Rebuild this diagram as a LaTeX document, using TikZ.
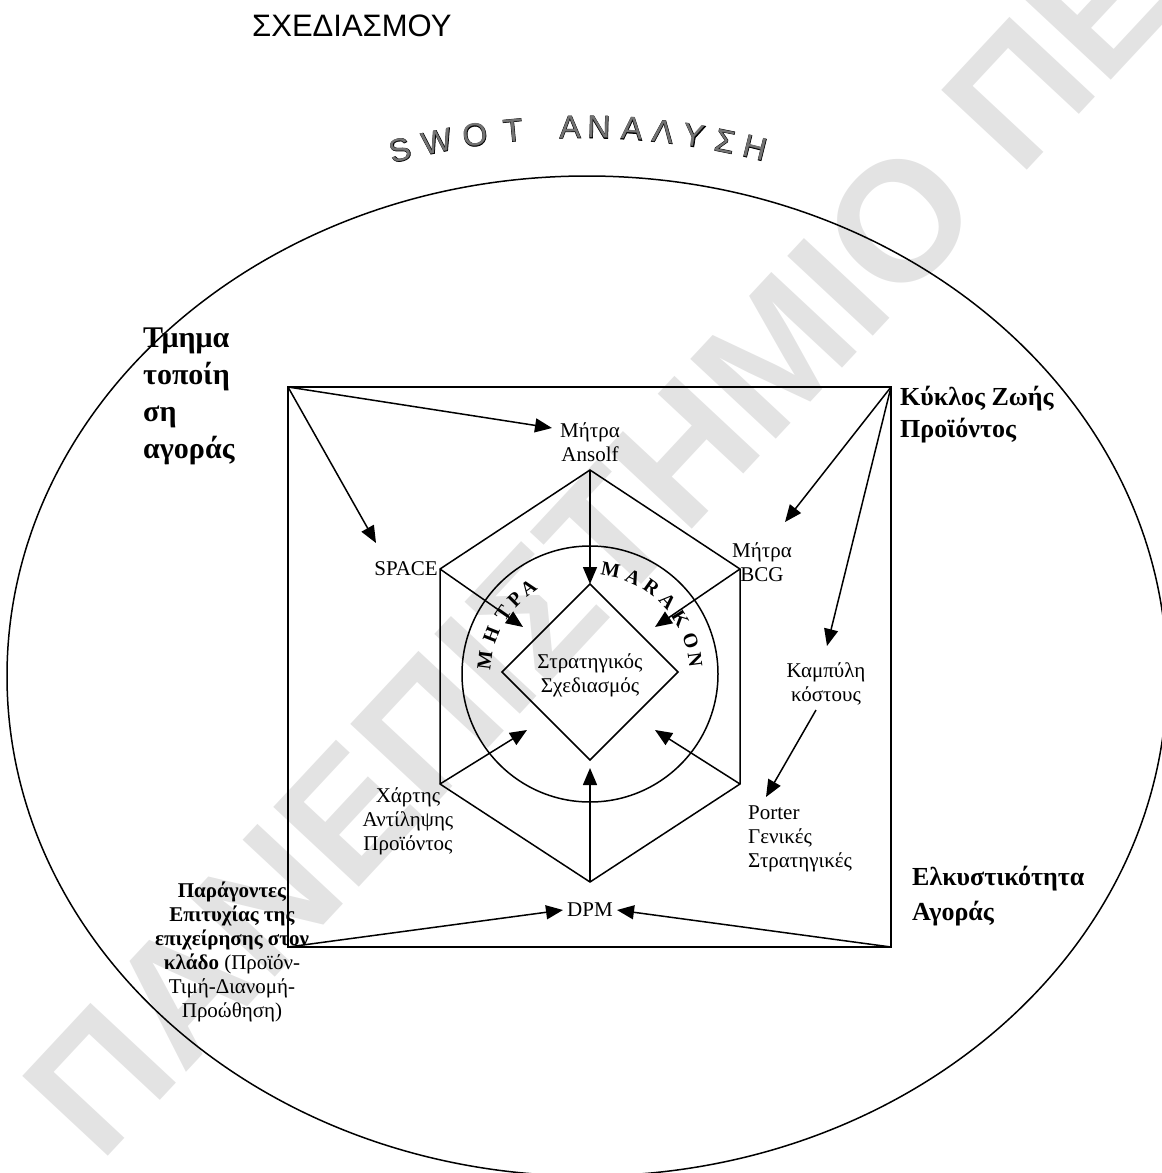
\documentclass[tikz,border=0pt]{standalone}
\usepackage{fontspec}
\setmainfont{Liberation Serif}
\setsansfont{Liberation Sans}
\newfontfamily\wmfont{Liberation Sans}
\newfontfamily\swotout[FakeBold=2.5]{Liberation Sans}
\newfontfamily\swotin{Liberation Sans}
\usetikzlibrary{arrows.meta}
\tikzset{
  x=1pt, y=-1pt,
  ln/.style={line width=1.5pt},
  arr/.style={line width=1.5pt, -{Triangle[length=17pt,width=14pt]}},
  rm/.style={inner sep=0pt, align=center, font=\fontsize{21}{24}\selectfont},
  rml/.style={inner sep=0pt, align=left, font=\fontsize{21}{24}\selectfont},
  bigbf/.style={inner sep=0pt, align=left, font=\bfseries\fontsize{30}{36.7}\selectfont},
  midbf/.style={inner sep=0pt, align=left, font=\bfseries\fontsize{26}{32}\selectfont},
  smallbf/.style={inner sep=0pt, align=center, font=\fontsize{21}{24}\selectfont},
  swo/.style={inner sep=0pt, text=black, font=\swotout\fontsize{32}{32}\selectfont},
  swi/.style={inner sep=0pt, text=black!55, font=\swotin\fontsize{32}{32}\selectfont},
  arcl/.style={inner sep=0pt, font=\bfseries\fontsize{20}{20}\selectfont},
  wm/.style={inner sep=0pt, text=black!11, font=\wmfont\bfseries\fontsize{170}{170}\selectfont},
}
\begin{document}
\begin{tikzpicture}
\useasboundingbox (0,0) rectangle (1162,1173);
\clip (0,0) rectangle (1162,1173);

% watermark
\node[wm, rotate=47, anchor=base west] (wm) at (100,1165) {ΠΑΝΕΠΙΣΤΗΜΙΟ ΠΕΙΡΑΙΩΣ};

% key points
\coordinate (sqTL) at (288,387);
\coordinate (sqTR) at (891,387);
\coordinate (sqBL) at (288,947);
\coordinate (sqBR) at (891,947);
\coordinate (hT)  at (590,470);
\coordinate (hUL) at (440,569);
\coordinate (hUR) at (740,569);
\coordinate (hLL) at (440,784);
\coordinate (hLR) at (740,784);
\coordinate (hB)  at (590,882);
\coordinate (dT) at (590,584);
\coordinate (dL) at (502,672);
\coordinate (dR) at (678,672);
\coordinate (dB) at (590,760);
\coordinate (cc) at (590,674);
\coordinate (ec) at (587,676);

% arrow tips / starts
\coordinate (tAns) at (552,428);
\coordinate (tSpace) at (376,543);
\coordinate (tBCG) at (785,522);
\coordinate (tKamp) at (827,646);
\coordinate (kStart) at (816,710);
\coordinate (tPorter) at (766,797);
\coordinate (tUL) at (523,627);
\coordinate (tUR) at (655,627);
\coordinate (tLL) at (527,730);
\coordinate (tLR) at (655,730);
\coordinate (tB) at (590,768);
\coordinate (tDl) at (563,910);
\coordinate (tDr) at (617,910);

% outer ellipse
\draw[ln] (ec) ellipse [x radius=580, y radius=500];

% square, hexagon, circle, diamond
\draw[ln] (sqTL) rectangle (sqBR);
\draw[ln] (hT) -- (hUR) -- (hLR) -- (hB) -- (hLL) -- (hUL) -- cycle;
\draw[ln] (cc) circle [radius=128];
\draw[ln] (dT) -- (dR) -- (dB) -- (dL) -- cycle;

% arrows
\draw[arr] (sqTL) -- (tAns);
\draw[arr] (sqTL) -- (tSpace);
\draw[arr] (sqTR) -- (tBCG);
\draw[arr] (sqTR) -- (tKamp);
\draw[arr] (kStart) -- (tPorter);
\draw[arr] (hT) -- (dT);
\draw[arr] (hUL) -- (tUL);
\draw[arr] (hUR) -- (tUR);
\draw[arr] (hLL) -- (tLL);
\draw[arr] (hLR) -- (tLR);
\draw[arr] (hB) -- (tB);
\draw[arr] (sqBL) -- (tDl);
\draw[arr] (sqBR) -- (tDr);

% title
\node[inner sep=0pt, anchor=base west, font=\sffamily\fontsize{31}{31}\selectfont] (title) at (252,36) {ΣΧΕΔΙΑΣΜΟΥ};

% SWOT arc text
\foreach \x/\y/\r/\c [count=\i] in {400/150/14.6/S, 437/141.6/11.6/W, 475/135/8.5/O, 513/130.3/5.5/T,
  570/127.1/1/Α, 599/127.2/-1.4/Ν, 632/128.7/-4/Α, 663/131.6/-6.5/Λ, 694/135.7/-8.9/Υ, 725/141.2/-11.5/Σ, 755/147.8/-13.9/Η}{
  \node[swo, rotate=\r] (swo\i) at (\x,\y) {\c};
  \node[swi, rotate=\r] (swi\i) at (\x,\y) {\c};
}

% circle letters
\foreach \a/\c [count=\i] in {172.5/Μ, 158.5/Η, 145/Τ, 135/Ρ, 125.5/Α, 78.7/M, 66/A, 54.5/R, 43/A, 31.5/K, 18/O, 7.5/N}{
  \node[arcl, rotate=\a-90] (ml\i) at ({590+106*cos(\a)},{674-106*sin(\a)}) {\c};
}

% labels (base anchor = baseline of the last line)
\node[rm, anchor=base] (ansolf) at (590,461) {Μήτρα\\Ansolf};
\node[rm, anchor=base east] (space) at (438,575) {SPACE};
\node[rm, anchor=base] (bcg) at (762,581) {Μήτρα\\BCG};
\node[rm, anchor=base] (kamp) at (826,701) {Καμπύλη\\κόστους};
\node[rm, anchor=base] (strat) at (590,692) {Στρατηγικός\\Σχεδιασμός};
\node[rm, anchor=base] (xartis) at (408,850) {Χάρτης\\Αντίληψης\\Προϊόντος};
\node[rml, anchor=base west] (porter) at (748,867) {Porter\\Γενικές\\Στρατηγικές};
\node[rm, anchor=base] (dpm) at (590,916) {DPM};

\node[bigbf, anchor=base west] (tmima) at (143,458) {Τμημα\\τοποίη\\ση\\αγοράς};
\node[midbf, anchor=base west] (kyklos) at (900,437) {Κύκλος Ζωής\\Προϊόντος};
\node[midbf, anchor=base west, font=\bfseries\fontsize{26}{35}\selectfont] (elk) at (912,920) {Ελκυστικότητα\\Αγοράς};
\node[smallbf, anchor=base] (parag) at (232,1017) {\textbf{Παράγοντες}\\\textbf{Επιτυχίας της}\\\textbf{επιχείρησης στον}\\\textbf{κλάδο} (Προϊόν-\\Τιμή-Διανομή-\\Προώθηση)};

\end{tikzpicture}
\end{document}
